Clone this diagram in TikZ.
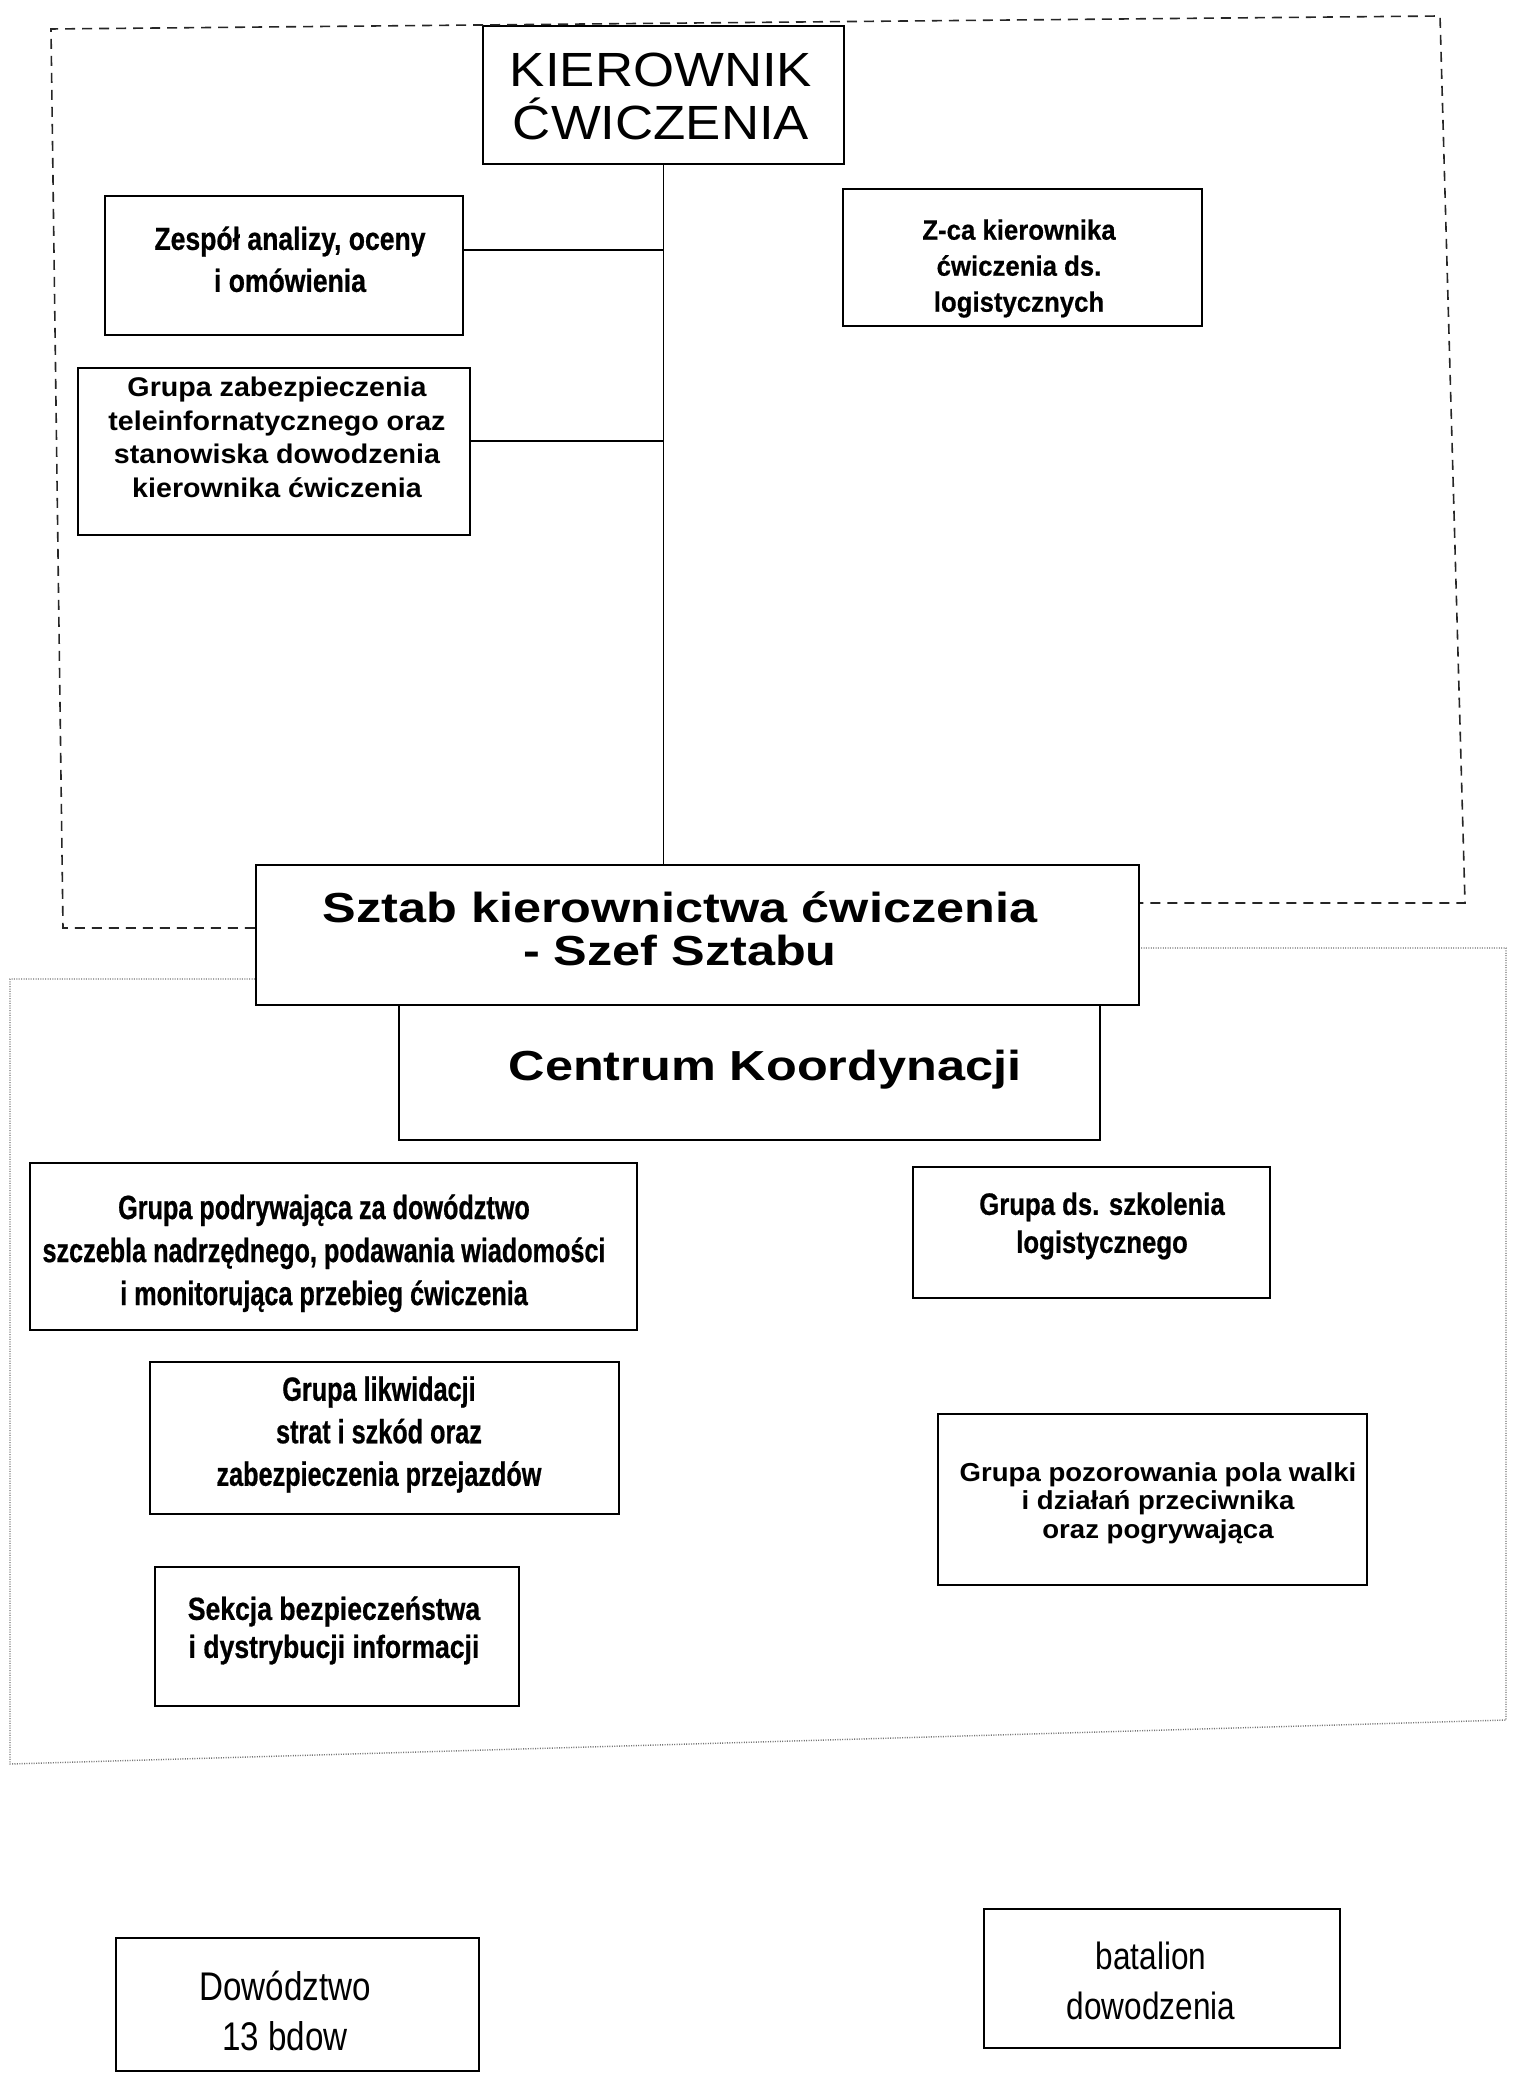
\documentclass[tikz,border=0pt]{standalone}
\usepackage{fontspec}
\setmainfont{Liberation Sans}
\newfontfamily\fnorm[FakeStretch=1.06]{Liberation Sans}
\newfontfamily\fmid[FakeStretch=0.92,FakeBold=0.5]{Liberation Sans}
\newfontfamily\fnar[FakeStretch=0.83,FakeBold=0.6]{Liberation Sans}
\newfontfamily\fnarreg[FakeStretch=0.83]{Liberation Sans}
\newfontfamily\fcond[FakeStretch=0.75,FakeBold=0.6]{Liberation Sans}
\newfontfamily\fwide[FakeStretch=1.2]{Liberation Sans}
\newfontfamily\fkier[FakeStretch=1.1]{Liberation Sans}
\usetikzlibrary{fit}
\newcommand{\fsz}[2]{\fontsize{#1}{#2}\selectfont\lineskiplimit=-100pt\relax}

\begin{document}
\begin{tikzpicture}[x=0.5pt,y=-0.5pt,
  orgbox/.style={draw=black, line width=1.1pt, inner sep=0pt},
  orgtxt/.style={inner sep=0pt, align=center, anchor=north},
  conn/.style={draw=black, line width=0.7pt},
  dashframe/.style={draw=black!85, line width=0.8pt, dash pattern=on 5pt off 3.5pt},
  dotframe/.style={draw=black!55, line width=0.7pt, dash pattern=on 0.5pt off 0.7pt}]

\path[fill=white] (0,0) rectangle (1516,2075);
\useasboundingbox (0,0) rectangle (1516,2075);

% boxes and texts
\node[orgbox, fit={(483,26) (844,164)}] (kier) {};
\node[orgtxt, font=\fkier\fsz{24}{26.5}] (kiert) at (661,53) {KIEROWNIK\\ĆWICZENIA};

\node[orgbox, fit={(105,196) (463,335)}] (zesp) {};
\node[orgtxt, font=\fnar\bfseries\fsz{16}{21}] (zespt) at (290,226) {Zespół analizy, oceny\\i omówienia};

\node[orgbox, fit={(843,189) (1202,326)}] (zca) {};
\node[orgtxt, font=\fmid\bfseries\fsz{14}{18}] (zcat) at (1019,219) {Z-ca kierownika\\ćwiczenia ds.\\logistycznych};

\node[orgbox, fit={(78,368) (470,535)}] (zab) {};
\node[orgtxt, font=\fnorm\bfseries\fsz{13.5}{16.7}] (zabt) at (277,377) {Grupa zabezpieczenia\\teleinfornatycznego oraz\\stanowiska dowodzenia\\kierownika ćwiczenia};

\node[orgbox, fit={(256,865) (1139,1005)}] (sztab) {};
\node[orgtxt, font=\fwide\bfseries\fsz{21}{21.8}] (sztabt) at (680,891) {Sztab kierownictwa ćwiczenia\\- Szef Sztabu};

\node[orgbox, fit={(399,1005) (1100,1140)}] (ck) {};
\node[orgtxt, font=\fwide\bfseries\fsz{21}{24}] (ckt) at (765,1050) {Centrum Koordynacji};

\node[orgbox, fit={(30,1163) (637,1330)}] (podr) {};
\node[orgtxt, font=\fcond\bfseries\fsz{16.8}{21.5}] (podrt) at (324,1194) {Grupa podrywająca za dowództwo\\szczebla nadrzędnego, podawania wiadomości\\i monitorująca przebieg ćwiczenia};

\node[orgbox, fit={(913,1167) (1270,1298)}] (szk) {};
\node[orgtxt, font=\fnar\bfseries\fsz{15.5}{19}] (szkt) at (1102,1192) {Grupa ds. szkolenia\\logistycznego};

\node[orgbox, fit={(150,1362) (619,1514)}] (likw) {};
\node[orgtxt, font=\fcond\bfseries\fsz{16.8}{21.25}] (likwt) at (379,1376) {Grupa likwidacji\\strat i szkód oraz\\zabezpieczenia przejazdów};

\node[orgbox, fit={(155,1567) (519,1706)}] (sekc) {};
\node[orgtxt, font=\fnar\bfseries\fsz{16}{19}] (sekct) at (334,1596) {Sekcja bezpieczeństwa\\i dystrybucji informacji};

\node[orgbox, fit={(938,1414) (1367,1585)}] (poz) {};
\node[orgtxt, font=\fnorm\bfseries\fsz{13}{14.2}] (pozt) at (1158,1462) {Grupa pozorowania pola walki\\i działań przeciwnika\\oraz pogrywająca};

\node[orgbox, fit={(116,1938) (479,2071)}] (dow) {};
\node[orgtxt, font=\fnarreg\fsz{20}{25}] (dowt) at (285,1971) {Dowództwo\\13 bdow};

\node[orgbox, fit={(984,1909) (1340,2048)}] (bat) {};
\node[orgtxt, font=\fnarreg\fsz{19}{25}] (batt) at (1151,1942) {batalion\\dowodzenia};

% connectors
\coordinate (c1) at (0,250);
\coordinate (c2) at (0,441);
\draw[conn] (kier.south) -- (kier.south |- sztab.north);
\draw[conn] (zesp.east |- c1) -- (kier.south |- c1);
\draw[conn] (zab.east |- c2) -- (kier.south |- c2);

% dashed frame
\coordinate (d1) at (63,928);
\coordinate (d2) at (51,29);
\coordinate (d3) at (1440,16);
\coordinate (d4) at (1465,903);
\draw[dashframe] (sztab.west |- d1) -- (d1) -- (d2) -- (d3) -- (d4) -- (sztab.east |- d4);

% dotted frame
\coordinate (p1) at (10,979);
\coordinate (p2) at (10,1764);
\coordinate (p3) at (1506,1720);
\coordinate (p4) at (1506,948);
\draw[dotframe] (sztab.west |- p1) -- (p1) -- (p2) -- (p3) -- (p4) -- (sztab.east |- p4);
\end{tikzpicture}
\end{document}
